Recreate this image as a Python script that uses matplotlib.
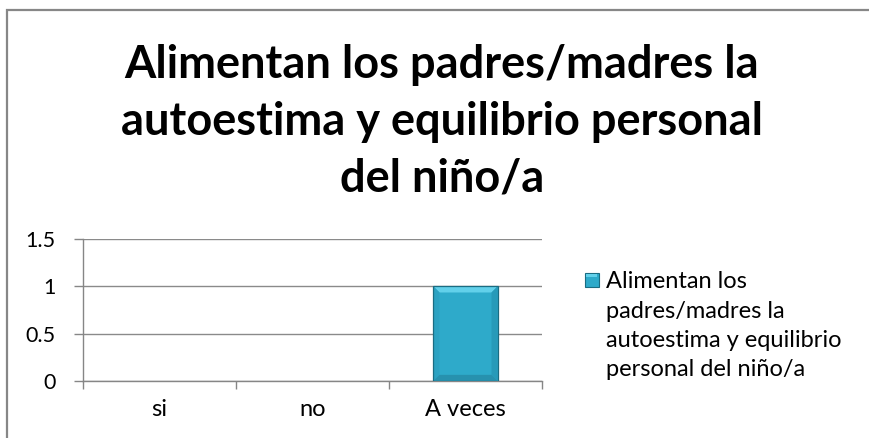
import matplotlib
matplotlib.use("Agg")
import matplotlib.pyplot as plt
import numpy as np
from matplotlib.patches import Rectangle, Polygon

categories = ["si", "no", "A veces"]
values = [0, 0, 1]
series_name = "Alimentan los padres/madres la autoestima y equilibrio personal del niño/a"
title_lines = ["Alimentan los padres/madres la", "autoestima y equilibrio personal", "del niño/a"]
legend_lines = ["Alimentan los", "padres/madres la", "autoestima y equilibrio", "personal del niño/a"]
y_ticks = [0, 0.5, 1, 1.5]
y_labels = ["0", "0.5", "1", "1.5"]

plt.rcParams["font.family"] = ["Lato", "DejaVu Sans"]

W, H = 870, 438
fig = plt.figure(figsize=(W / 100, H / 100), dpi=100)


def fx(px):
    return px / W


def fy(py):
    return 1 - py / H


# outer chart border (right/bottom run past the image)
fig.patches.append(Rectangle((fx(7), -0.05), 1.0, fy(10) + 0.05, transform=fig.transFigure,
                             fill=False, edgecolor="#878787", linewidth=1.6))

# title, one line at a time on its baseline
for i, line in enumerate(title_lines):
    fig.text(fx(442), fy(78 + 57 * i), line, ha="center", va="baseline",
             fontsize=32.5, fontweight="bold", color="black")

ax = fig.add_axes([fx(83), fy(381), fx(542 - 83), (381 - 239) / H])
x = np.arange(len(categories))
bar_face = "#2eaaca"
bar_edge = "#1a6c82"
bars = ax.bar(x, values, width=0.42, color=bar_face, linewidth=0, zorder=3)

# bevel look on the bars
dx, dy = 0.04, 0.065
for b in bars:
    h = b.get_height()
    if h <= 0:
        continue
    x0, w = b.get_x(), b.get_width()
    x1 = x0 + w
    faces = [
        ([(x0, h), (x1, h), (x1 - dx, h - dy), (x0 + dx, h - dy)], "#62d0ea"),
        ([(x0, 0), (x0, h), (x0 + dx, h - dy), (x0 + dx, dy)], "#2ca2c2"),
        ([(x1, 0), (x1, h), (x1 - dx, h - dy), (x1 - dx, dy)], "#279ab9"),
        ([(x0, 0), (x1, 0), (x1 - dx, dy), (x0 + dx, dy)], "#2791ae"),
    ]
    for pts, col in faces:
        ax.add_patch(Polygon(pts, closed=True, facecolor=col, edgecolor="none", zorder=3.5))
    ax.add_patch(Rectangle((x0, 0), w, h, fill=False, edgecolor=bar_edge, linewidth=0.9, zorder=3.6))

ax.set_xlim(-0.5, len(categories) - 0.5)
ax.set_ylim(0, 1.5)
ax.set_yticks(y_ticks)
ax.set_yticklabels(y_labels)
ax.set_xticks(x)
ax.set_xticklabels(categories)
ax.set_xticks(np.arange(len(categories) + 1) - 0.5, minor=True)
ax.tick_params(axis="x", which="major", length=0, pad=13, labelsize=17)
ax.tick_params(axis="x", which="minor", length=5.5, color="#868686", width=1)
ax.tick_params(axis="y", length=6.5, color="#868686", width=1, pad=13, labelsize=15.5)
ax.grid(axis="y", color="#8a8a8a", linewidth=1, zorder=0)
for s in ["top", "right"]:
    ax.spines[s].set_visible(False)
for s in ["left", "bottom"]:
    ax.spines[s].set_color("#868686")
    ax.spines[s].set_linewidth(1)

# legend: marker + wrapped series name
fig.patches.append(Rectangle((fx(585), fy(287)), fx(14), 14 / H, transform=fig.transFigure,
                             facecolor=bar_face, edgecolor=bar_edge, linewidth=0.8))
fig.patches.append(Rectangle((fx(586.5), fy(277)), fx(11), 3 / H, transform=fig.transFigure,
                             facecolor="#62d0ea", edgecolor="none"))
for i, line in enumerate(legend_lines):
    fig.text(fx(606), fy(288 + 29.5 * i), line, ha="left", va="baseline", fontsize=17, color="black")

fig.savefig("out.png", dpi=100)
